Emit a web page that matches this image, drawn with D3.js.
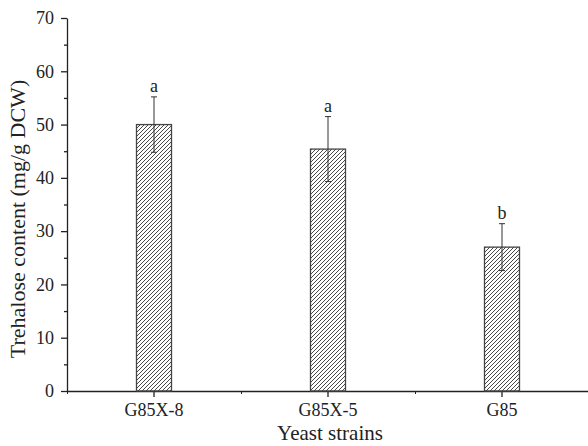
<!DOCTYPE html>
<html>
<head>
<meta charset="utf-8">
<script src="https://d3js.org/d3.v7.min.js"></script>
<style>
  body { margin: 0; background: #fff; }
  text { font-family: "Liberation Serif", "Times New Roman", serif; fill: #222; }
</style>
</head>
<body>
<svg id="chart"></svg>
<script>
var strains = ["G85X-8", "G85X-5", "G85"];
var trehalose = [50.0, 45.4, 27.0];
var errors = [5.2, 6.1, 4.4];
var letters = ["a", "a", "b"];
var yTicks = [0, 10, 20, 30, 40, 50, 60, 70];

var margin = {top: 18, right: -1, bottom: 55, left: 67},
    width = 588 - margin.left - margin.right,
    height = 446 - margin.top - margin.bottom;

var svg = d3.select("#chart")
    .attr("width", 588)
    .attr("height", 446);

// hatch fill for the bars
svg.append("defs").append("pattern")
    .attr("id", "hatch")
    .attr("patternUnits", "userSpaceOnUse")
    .attr("width", 4)
    .attr("height", 4)
  .append("path")
    .attr("d", "M-1,1 l2,-2 M0,4 l4,-4 M3,5 l2,-2")
    .attr("stroke", "#333")
    .attr("stroke-width", 0.9);

var g = svg.append("g")
    .attr("transform", "translate(" + margin.left + "," + margin.top + ")");

var x = d3.scaleBand().domain(strains).range([0, width]).padding(0);
var y = d3.scaleLinear().domain([0, 70]).range([height, 0]);
var barW = 35;

// y axis with minor ticks
g.append("g")
    .call(d3.axisLeft(y).tickValues(d3.range(5, 70, 10)).tickSize(3).tickFormat(""))
    .call(function(a) { a.select(".domain").remove(); });
var yAx = g.append("g")
    .call(d3.axisLeft(y).tickValues(yTicks).tickSize(6).tickPadding(7).tickSizeOuter(0));
yAx.selectAll("text").style("font-size", "18px").style("font-family", "Liberation Serif");

// x axis: major ticks at centers, minor between
var xAx = g.append("g")
    .attr("transform", "translate(0," + height + ")")
    .call(d3.axisBottom(x).tickSize(6).tickPadding(6).tickSizeOuter(0));
xAx.selectAll("text").style("font-size", "18px").style("font-family", "Liberation Serif");
g.append("g")
    .attr("transform", "translate(0," + height + ")")
    .selectAll("line")
    .data([0, 1, 2])
    .enter().append("line")
    .attr("x1", function(d) { return x.step() * d + 0.5; })
    .attr("x2", function(d) { return x.step() * d + 0.5; })
    .attr("y1", 0).attr("y2", 3)
    .attr("stroke", "#222");

g.selectAll(".domain, .tick line").attr("stroke", "#222").attr("stroke-width", 1.3);

// bars
g.selectAll(".bar")
    .data(trehalose)
    .enter().append("rect")
    .attr("x", function(d, i) { return x(strains[i]) + x.bandwidth() / 2 - barW / 2; })
    .attr("y", function(d) { return y(d); })
    .attr("width", barW)
    .attr("height", function(d) { return height - y(d); })
    .attr("fill", "url(#hatch)")
    .attr("stroke", "#444")
    .attr("stroke-width", 1.3);

// error bars
var eb = g.selectAll(".err")
    .data(trehalose)
    .enter().append("g")
    .attr("transform", function(d, i) { return "translate(" + (x(strains[i]) + x.bandwidth() / 2) + ",0)"; });
eb.append("line")
    .attr("y1", function(d, i) { return y(d - errors[i]); })
    .attr("y2", function(d, i) { return y(d + errors[i]); })
    .attr("stroke", "#333").attr("stroke-width", 1);
eb.append("line")
    .attr("x1", -3).attr("x2", 3)
    .attr("y1", function(d, i) { return y(d + errors[i]); })
    .attr("y2", function(d, i) { return y(d + errors[i]); })
    .attr("stroke", "#333").attr("stroke-width", 1);
eb.append("line")
    .attr("x1", -3).attr("x2", 3)
    .attr("y1", function(d, i) { return y(d - errors[i]); })
    .attr("y2", function(d, i) { return y(d - errors[i]); })
    .attr("stroke", "#333").attr("stroke-width", 1);
eb.append("text")
    .attr("text-anchor", "middle")
    .attr("y", function(d, i) { return y(d + errors[i]) - 5; })
    .style("font-size", "18px")
    .text(function(d, i) { return letters[i]; });

// axis titles
svg.append("text")
    .attr("x", 330)
    .attr("y", 440)
    .attr("text-anchor", "middle")
    .style("font-size", "21px")
    .text("Yeast strains");
svg.append("text")
    .attr("transform", "translate(25,219) rotate(-90)")
    .attr("text-anchor", "middle")
    .style("font-size", "22px")
    .text("Trehalose content (mg/g DCW)");
</script>
</body>
</html>
